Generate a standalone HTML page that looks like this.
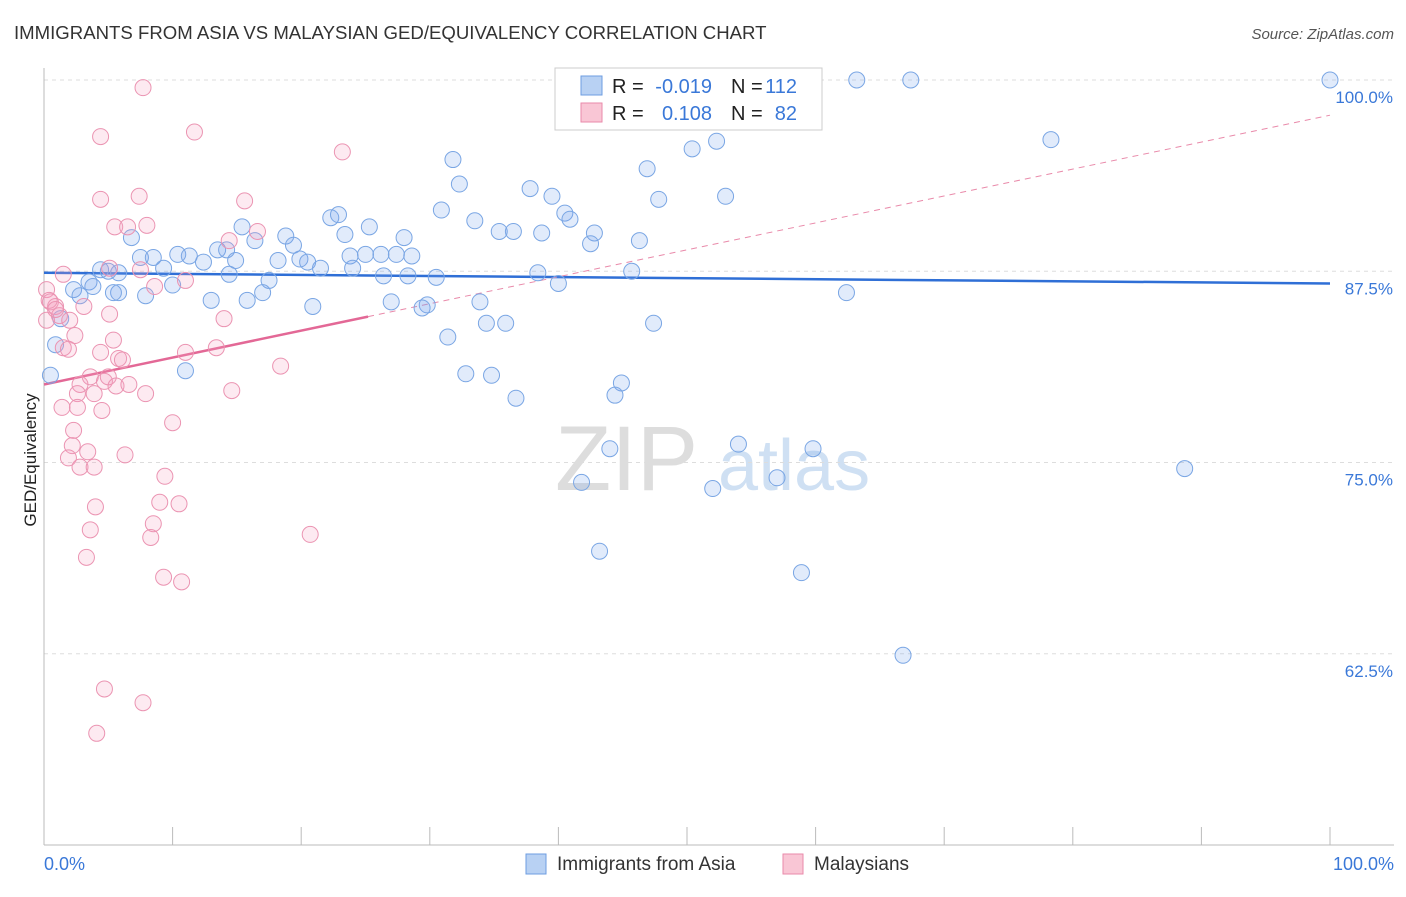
<!DOCTYPE html>
<html><head><meta charset="utf-8"><style>
body{margin:0;background:#fff;font-family:"Liberation Sans",sans-serif;}
svg text{font-family:"Liberation Sans",sans-serif;}
</style></head><body>
<svg id="chart" width="1406" height="892" xmlns="http://www.w3.org/2000/svg">
<text x="14" y="39" font-size="18.6" fill="#333">IMMIGRANTS FROM ASIA VS MALAYSIAN GED/EQUIVALENCY CORRELATION CHART</text>
<text x="1394" y="39" font-size="15" fill="#555" font-style="italic" text-anchor="end">Source: ZipAtlas.com</text>
<text x="36" y="460" font-size="17" fill="#222" transform="rotate(-90 36 460)" text-anchor="middle">GED/Equivalency</text>
<g><text x="555" y="490" font-size="92" fill="#ddd" font-family="Liberation Serif">ZIP</text><text x="718" y="490" font-size="72" fill="#cfe0f3">atlas</text></g>
<g id="grid"></g><g id="axes"></g><g id="trends"></g><g id="pts"></g>
<g>
<rect x="555" y="68" width="267" height="62" fill="#fff" stroke="#ccc"/>
<rect x="581" y="76" width="21" height="19" fill="#b8d1f3" stroke="#6e9de0"/>
<rect x="581" y="103" width="21" height="19" fill="#f9c6d5" stroke="#e98aaa"/>
<text x="612" y="93" font-size="20" fill="#222">R =</text>
<text x="712" y="93" font-size="20" fill="#3a78d8" text-anchor="end">-0.019</text>
<text x="731" y="93" font-size="20" fill="#222">N =</text>
<text x="797" y="93" font-size="20" fill="#3a78d8" text-anchor="end">112</text>
<text x="612" y="120" font-size="20" fill="#222">R =</text>
<text x="712" y="120" font-size="20" fill="#3a78d8" text-anchor="end">0.108</text>
<text x="731" y="120" font-size="20" fill="#222">N =</text>
<text x="797" y="120" font-size="20" fill="#3a78d8" text-anchor="end">82</text>
</g>
<g>
<rect x="526" y="854" width="20" height="20" fill="#b8d1f3" stroke="#6e9de0"/>
<text x="557" y="870" font-size="19" fill="#333">Immigrants from Asia</text>
<rect x="783" y="854" width="20" height="20" fill="#f9c6d5" stroke="#e98aaa"/>
<text x="814" y="870" font-size="19" fill="#333">Malaysians</text>
</g>
</svg>
<script>
const yTicks=[100,87.5,75,62.5];
const yTickLabels=["100.0%","87.5%","75.0%","62.5%"];
const asiaX=[100,63.2,67.4,78.3,52.3,50.4,31.8,46.9,32.3,37.8,39.5,47.8,53.0,30.9,22.3,22.9,40.5,40.9,33.5,15.4,35.4,36.5,25.3,23.4,38.7,42.8,6.8,16.4,18.8,46.3,42.5,28.0,19.4,10.4,13.5,14.2,12.4,14.9,18.2,11.3,25.0,23.8,19.9,26.2,28.6,27.4,20.5,7.5,8.5,9.3,4.4,5.0,5.8,3.5,21.5,24.0,26.4,28.3,30.5,38.4,45.7,14.4,17.5,2.3,2.8,3.8,5.8,7.9,5.4,17.0,15.8,13.0,10.0,27.0,29.8,29.4,33.9,20.9,40.0,62.4,34.4,35.9,47.4,31.4,1.3,0.9,0.5,11.0,32.8,34.8,44.9,44.4,36.7,44.0,54.0,59.8,41.8,57.0,52.0,88.7,43.2,58.9,66.8,45.3];
const asiaY=[100,100,100,96.1,96.0,95.5,94.8,94.2,93.2,92.9,92.4,92.2,92.4,91.5,91.0,91.2,91.3,90.9,90.8,90.4,90.1,90.1,90.4,89.9,90.0,90.0,89.7,89.5,89.8,89.5,89.3,89.7,89.2,88.6,88.9,88.9,88.1,88.2,88.2,88.5,88.6,88.5,88.3,88.6,88.5,88.6,88.1,88.4,88.4,87.7,87.6,87.5,87.4,86.8,87.7,87.7,87.2,87.2,87.1,87.4,87.5,87.3,86.9,86.3,85.9,86.5,86.1,85.9,86.1,86.1,85.6,85.6,86.6,85.5,85.3,85.1,85.5,85.2,86.7,86.1,84.1,84.1,84.1,83.2,84.4,82.7,80.7,81.0,80.8,80.7,80.2,79.4,79.2,75.9,76.2,75.9,73.7,74.0,73.3,74.6,69.2,67.8,62.4,97.5];
const malX=[7.7,4.4,11.7,23.2,4.4,7.4,15.6,5.5,6.5,8.0,16.6,14.4,5.1,1.5,7.5,11.0,8.6,0.2,0.5,0.9,0.2,1.2,3.1,14.0,5.1,2.4,1.5,1.9,4.4,5.4,11.0,13.4,5.8,6.1,18.4,3.6,4.7,5.0,2.8,2.6,3.9,7.9,5.6,6.6,14.6,1.4,2.6,4.5,10.0,2.3,2.2,3.4,1.9,2.8,3.9,6.3,9.4,4.0,9.0,10.5,3.6,8.5,8.3,20.7,3.3,9.3,10.7,4.7,7.7,4.1,0.4,0.9,2.0];
const malY=[99.5,96.3,96.6,95.3,92.2,92.4,92.1,90.4,90.4,90.5,90.1,89.5,87.7,87.3,87.6,86.9,86.5,86.3,85.5,85.2,84.3,84.6,85.2,84.4,84.7,83.3,82.5,82.4,82.2,83.0,82.2,82.5,81.8,81.7,81.3,80.6,80.3,80.6,80.1,79.5,79.5,79.5,80.0,80.1,79.7,78.6,78.6,78.4,77.6,77.1,76.1,75.7,75.3,74.7,74.7,75.5,74.1,72.1,72.4,72.3,70.6,71.0,70.1,70.3,68.8,67.5,67.2,60.2,59.3,57.3,85.6,85.0,84.3];
const asiaTrend=[87.4,86.7];
const malTrend=[80.1,97.7];
const malSolidEnd=25.2;

const NS="http://www.w3.org/2000/svg";
const X=v=>44+v/100*1286, Y=v=>845-(v-50)/50*765;
function mk(tag,attrs,parent){const e=document.createElementNS(NS,tag);for(const k in attrs)e.setAttribute(k,attrs[k]);document.getElementById(parent).appendChild(e);return e;}
yTicks.forEach((t,i)=>{
 const l=mk('line',{x1:44,x2:1394,y1:Y(t),y2:Y(t),stroke:'#ddd','stroke-dasharray':'4,4'},'grid');
 
 
 const tx=mk('text',{x:1393,y:Y(t)+23,'font-size':17,fill:'#3a78d8','text-anchor':'end'},'grid');
 tx.textContent=yTickLabels[i];
 
 
});
mk('line',{x1:44,x2:44,y1:68,y2:845,stroke:'#bbb'},'axes');
mk('line',{x1:44,x2:1394,y1:845,y2:845,stroke:'#bbb'},'axes');
for(let i=0;i<=10;i++){const t=mk('line',{x1:X(i*10),x2:X(i*10),y1:827,y2:845,stroke:'#bbb'},'axes');
 
 }
const x0=mk('text',{x:44,y:870,'font-size':18,fill:'#3a78d8'},'axes');x0.textContent='0.0%';


const x1=mk('text',{x:1394,y:870,'font-size':18,fill:'#3a78d8','text-anchor':'end'},'axes');x1.textContent='100.0%';


asiaX.forEach((v,i)=>{const c=mk('circle',{cx:X(v),cy:Y(asiaY[i]),r:8,fill:'rgba(120,165,235,0.22)',stroke:'#7aa6e4','stroke-width':1},'pts');
 
 });
malX.forEach((v,i)=>{const c=mk('circle',{cx:X(v),cy:Y(malY[i]),r:8,fill:'rgba(245,160,190,0.22)',stroke:'#eb94b2','stroke-width':1},'pts');
 
 });
const at=mk('line',{x1:X(0),y1:Y(asiaTrend[0]),x2:X(100),y2:Y(asiaTrend[1]),stroke:'#2f6fd6','stroke-width':2.5},'trends');


const my=x=>malTrend[0]+(malTrend[1]-malTrend[0])*x/100;
const md=mk('line',{x1:X(malSolidEnd),y1:Y(my(malSolidEnd)),x2:X(100),y2:Y(my(100)),stroke:'#e98aaa','stroke-width':1,'stroke-dasharray':'6,5'},'trends');


const ms=mk('line',{x1:X(0),y1:Y(my(0)),x2:X(malSolidEnd),y2:Y(my(malSolidEnd)),stroke:'#e36896','stroke-width':2.5},'trends');


</script>
</body></html>
